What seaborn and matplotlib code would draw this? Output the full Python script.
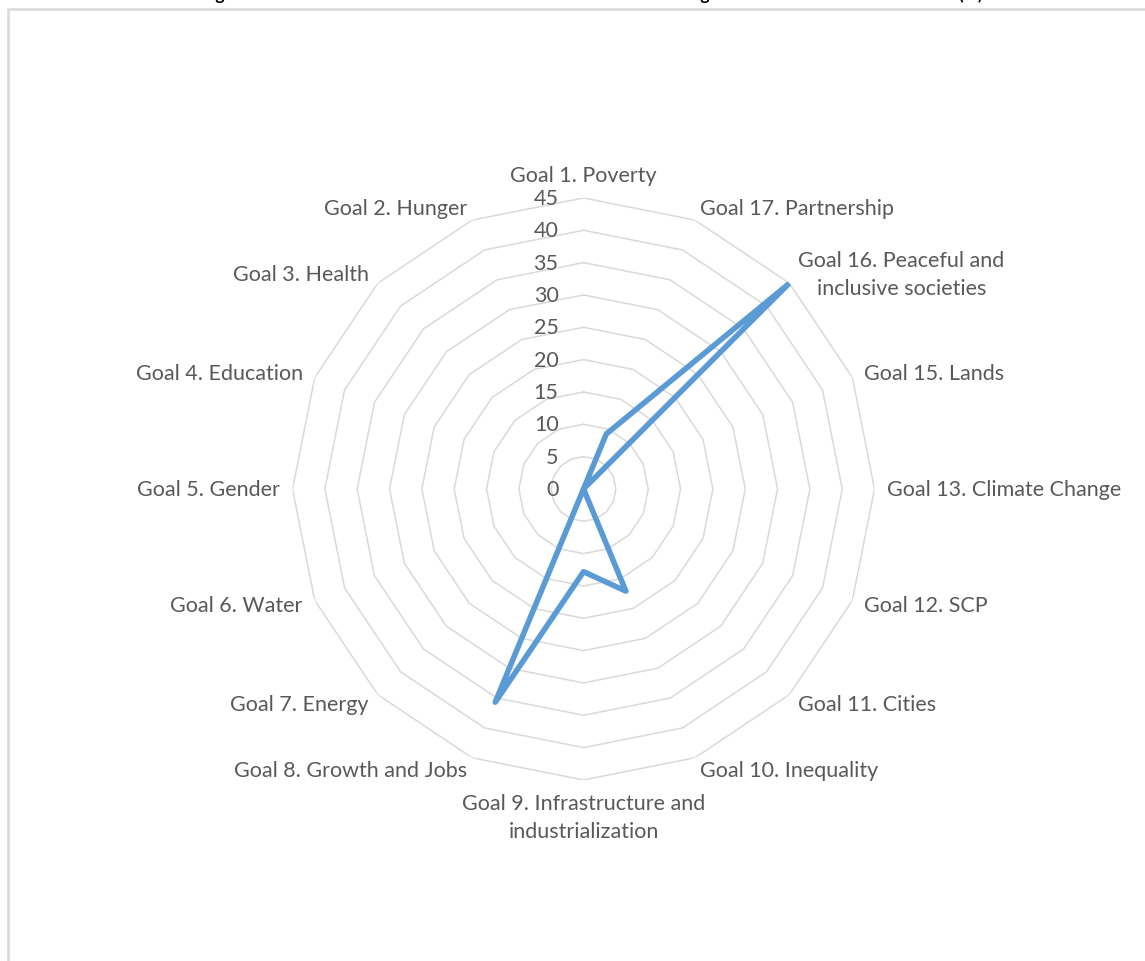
import numpy as np
import pandas as pd
import seaborn as sns
import matplotlib.pyplot as plt
from matplotlib.patches import Rectangle

# categories clockwise from the top (Goal 14 is not in the chart)
goals = ['Goal 1. Poverty', 'Goal 17. Partnership',
         'Goal 16. Peaceful and\ninclusive societies', 'Goal 15. Lands',
         'Goal 13. Climate Change', 'Goal 12. SCP', 'Goal 11. Cities',
         'Goal 10. Inequality', 'Goal 9. Infrastructure and\nindustrialization',
         'Goal 8. Growth and Jobs', 'Goal 7. Energy', 'Goal 6. Water',
         'Goal 5. Gender', 'Goal 4. Education', 'Goal 3. Health', 'Goal 2. Hunger']
shares = [0, 9.2, 44.8, 0, 0, 0, 0, 17.1, 12.8, 35.7, 0, 0, 0, 0, 0, 0]
ring_values = [0, 5, 10, 15, 20, 25, 30, 35, 40, 45]
title = 'Figure 5. Distribution of the Total Measures Across the SDG Targets in the National Reform Acts (%)'

sns.set_theme(style='white')
plt.rcParams['font.family'] = ['Lato', 'DejaVu Sans']

n = len(goals)
theta = np.arange(n) * 2 * np.pi / n

df = pd.DataFrame({'theta': np.append(theta, 2 * np.pi),
                   'share': shares + shares[:1]})

fig = plt.figure(figsize=(11.45, 9.62), dpi=100)
fig.patch.set_facecolor('white')

# chart area border (runs off the right and bottom edges)
fig.patches.append(Rectangle((8 / 1145, -0.1), 1.2, 1.1 - 10 / 962,
                             transform=fig.transFigure, fill=False,
                             edgecolor='#d9d9d9', lw=1.8))

ax = fig.add_axes([0.2555, 0.1882, 0.5083, 0.605], projection='polar')
ax.set_theta_zero_location('N')
ax.set_theta_direction(-1)
ax.set_ylim(0, 45)
ax.grid(False)
ax.set_xticks([])
ax.set_yticks([])
ax.spines['polar'].set_visible(False)
ax.patch.set_alpha(0)

# polygon gridlines
ring_theta = np.append(theta, 2 * np.pi)
for r in ring_values[1:]:
    ax.plot(ring_theta, [r] * len(ring_theta), color='#d9d9d9', lw=1.1, zorder=1)

sns.lineplot(data=df, x='theta', y='share', sort=False, estimator=None,
             color='#5b9bd5', lw=4.0, ax=ax, zorder=3)
ax.lines[-1].set_solid_joinstyle('round')
ax.set_xlabel('')
ax.set_ylabel('')

# value axis labels
for r in ring_values:
    ax.annotate(str(r), (0, r), xytext=(-18, 0), textcoords='offset points',
                ha='right', va='center', fontsize=15.5, color='#595959',
                annotation_clip=False)

# category labels
for t, label in zip(theta, goals):
    s, c = np.sin(t), np.cos(t)
    ha = 'left' if s > 0.01 else ('right' if s < -0.01 else 'center')
    va = 'bottom' if c > 0.99 else ('top' if c < -0.99 else 'center')
    ax.text(t, 47, label, ha=ha, va=va, fontsize=15.5, color='#595959',
            multialignment='center', linespacing=1.5)

# title sits above the top edge, only its descenders show
fig.text(0.517, 1.0, title, ha='center', va='baseline', fontsize=12.6,
         fontweight='bold', color='black')

fig.savefig('out.png', dpi=100, facecolor='white')
